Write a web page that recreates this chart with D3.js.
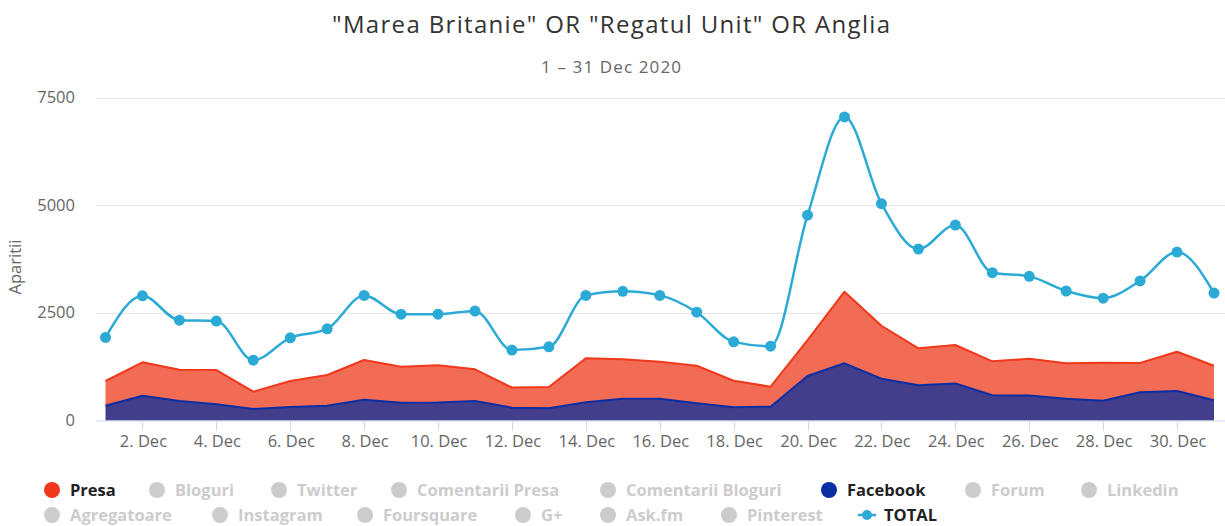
<!DOCTYPE html>
<html>
<head>
<meta charset="utf-8">
<script src="https://cdn.jsdelivr.net/npm/d3@7"></script>
<style>
  body { margin: 0; background: #fff; }
  svg { font-family: "Open Sans", "DejaVu Sans", sans-serif; }
</style>
</head>
<body>
<div id="chart"></div>
<script>
// values
const days = d3.range(1, 32);
const presa = [573, 775, 727, 796, 402, 604, 712, 922, 836, 861, 736, 469, 495, 1022, 915,
               859, 873, 618, 465, 836, 1662, 1230, 855, 893, 789, 857, 822, 882, 680, 912, 803];
const facebook = [344, 576, 453, 376, 267, 313, 344, 483, 413, 420, 453, 297, 283, 422, 506,
                  506, 399, 306, 320, 1033, 1328, 970, 820, 860, 585, 578, 506, 460, 655, 685, 469];
const total = [1930, 2895, 2330, 2310, 1400, 1920, 2128, 2905, 2470, 2470, 2542, 1635, 1710, 2905, 3000,
               2905, 2515, 1826, 1726, 4768, 7050, 5035, 3982, 4539, 3433, 3347, 3007, 2841, 3242, 3912, 2960];
const yTicks = [0, 2500, 5000, 7500];
const xTicks = [2, 4, 6, 8, 10, 12, 14, 16, 18, 20, 22, 24, 26, 28, 30];

const legendRow1 = ["Presa", "Bloguri", "Twitter", "Comentarii Presa", "Comentarii Bloguri", "Facebook", "Forum", "Linkedin"];
const legendRow2 = ["Agregatoare", "Instagram", "Foursquare", "G+", "Ask.fm", "Pinterest", "TOTAL"];

const width = 1225, height = 526;
const plotLeft = 96, plotRight = 1225, plotTop = 97.5, plotBottom = 420.5;

const colors = {
  presaLine: "#f0381c", presaFill: "#f26b55",
  fbLine: "#0b2ea3", fbFill: "#433e8c",
  total: "#2caad6"
};

const svg = d3.select("#chart").append("svg")
  .attr("width", width)
  .attr("height", height);

const x = d3.scaleLinear().domain([1, 31]).range([105.5, 1214]);
const y = d3.scaleLinear().domain([0, 7500]).range([plotBottom, plotTop]);

// title
svg.append("text")
  .attr("x", 611).attr("y", 33)
  .attr("text-anchor", "middle")
  .attr("font-size", 24)
  .attr("fill", "#333")
  .attr("textLength", 558)
  .attr("lengthAdjust", "spacing")
  .text('"Marea Britanie" OR "Regatul Unit" OR Anglia');

svg.append("text")
  .attr("x", 611).attr("y", 73)
  .attr("text-anchor", "middle")
  .attr("font-size", 17)
  .attr("fill", "#666")
  .attr("textLength", 140)
  .attr("lengthAdjust", "spacing")
  .text("1 – 31 Dec 2020");

// grid
svg.append("g")
  .selectAll("line")
  .data(yTicks.slice(1))
  .enter().append("line")
  .attr("x1", plotLeft).attr("x2", plotRight)
  .attr("y1", d => Math.round(y(d)) + 0.5)
  .attr("y2", d => Math.round(y(d)) + 0.5)
  .attr("stroke", "#e6e6e6");

// y labels
svg.append("g")
  .selectAll("text")
  .data(yTicks)
  .enter().append("text")
  .attr("x", 75)
  .attr("y", d => y(d) + 5.5)
  .attr("text-anchor", "end")
  .attr("font-size", 16.5)
  .attr("fill", "#666")
  .text(d => d);

svg.append("text")
  .attr("transform", "translate(21,267) rotate(-90)")
  .attr("text-anchor", "middle")
  .attr("font-size", 16.5)
  .attr("fill", "#666")
  .text("Aparitii");

// stacked areas
const rows = days.map((d, i) => ({ day: d, presa: presa[i], facebook: facebook[i] }));
const stack = d3.stack().keys(["facebook", "presa"]);
const layers = stack(rows);

const area = d3.area()
  .x(d => x(d.data.day))
  .y0(d => y(d[0]))
  .y1(d => y(d[1]));
const topLine = d3.line()
  .x(d => x(d.data.day))
  .y(d => y(d[1]));

const fills = { facebook: colors.fbFill, presa: colors.presaFill };
const strokes = { facebook: colors.fbLine, presa: colors.presaLine };

[layers[1], layers[0]].forEach(layer => {
  svg.append("path")
    .datum(layer)
    .attr("d", area)
    .attr("fill", fills[layer.key]);
});
[layers[1], layers[0]].forEach(layer => {
  svg.append("path")
    .datum(layer)
    .attr("d", topLine)
    .attr("fill", "none")
    .attr("stroke", strokes[layer.key])
    .attr("stroke-width", 2)
    .attr("stroke-linejoin", "round");
});

// x axis
const xAxis = svg.append("g");
xAxis.append("line")
  .attr("x1", plotLeft).attr("x2", plotRight)
  .attr("y1", plotBottom + 0.5).attr("y2", plotBottom + 0.5)
  .attr("stroke", "#ccd6eb");
xAxis.selectAll(".tick")
  .data(xTicks)
  .enter().append("line")
  .attr("x1", d => Math.round(x(d)) + 0.5)
  .attr("x2", d => Math.round(x(d)) + 0.5)
  .attr("y1", plotBottom).attr("y2", plotBottom + 10)
  .attr("stroke", "#ccd6eb");
xAxis.selectAll("text")
  .data(xTicks)
  .enter().append("text")
  .attr("x", d => x(d) + 1)
  .attr("y", 447)
  .attr("text-anchor", "middle")
  .attr("font-size", 16.5)
  .attr("fill", "#666")
  .text(d => d + ". Dec");

// total spline
const spline = d3.line()
  .x((d, i) => x(days[i]))
  .y(d => y(d))
  .curve(d3.curveMonotoneX);

svg.append("path")
  .datum(total)
  .attr("d", spline)
  .attr("fill", "none")
  .attr("stroke", colors.total)
  .attr("stroke-width", 2.5);

svg.append("g")
  .selectAll("circle")
  .data(total)
  .enter().append("circle")
  .attr("cx", (d, i) => x(days[i]))
  .attr("cy", d => y(d))
  .attr("r", 5.5)
  .attr("fill", colors.total);

// legend
const row1X = [52, 157, 279, 399, 608, 829, 973, 1089];
const row2X = [52, 220, 365, 523, 608, 729, 867];
const active = { "Presa": colors.presaLine, "Facebook": colors.fbLine };

function legendRow(names, xs, cy) {
  names.forEach((name, i) => {
    const g = svg.append("g");
    const isTotal = name === "TOTAL";
    const on = isTotal || active[name];
    if (isTotal) {
      g.append("line")
        .attr("x1", xs[i] - 9).attr("x2", xs[i] + 9)
        .attr("y1", cy).attr("y2", cy)
        .attr("stroke", colors.total).attr("stroke-width", 2.5);
      g.append("circle")
        .attr("cx", xs[i]).attr("cy", cy).attr("r", 5)
        .attr("fill", colors.total);
    } else {
      g.append("circle")
        .attr("cx", xs[i]).attr("cy", cy).attr("r", 8)
        .attr("fill", active[name] || "#cccccc");
    }
    g.append("text")
      .attr("x", xs[i] + (isTotal ? 17 : 18))
      .attr("y", cy + 5.5)
      .attr("font-size", 16.5)
      .attr("font-weight", "bold")
      .attr("fill", on ? "#222" : "#cccccc")
      .text(name);
  });
}
legendRow(legendRow1, row1X, 490);
legendRow(legendRow2, row2X, 515);
</script>
</body>
</html>
